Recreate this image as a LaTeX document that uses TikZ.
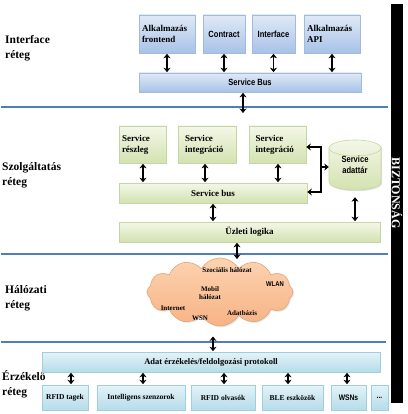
\documentclass[tikz,border=0pt]{standalone}
\usepackage{fontspec}
\setmainfont{Liberation Serif}
\newfontfamily\nsans[FakeStretch=0.84]{Liberation Sans}
\usetikzlibrary{arrows.meta,shapes.symbols,shadows,calc}
\definecolor{layerblue}{HTML}{4F7FB8}
\definecolor{bluetop}{HTML}{E0E9F6}
\definecolor{bluebot}{HTML}{A8C2E8}
\definecolor{blueedge}{HTML}{A3BBDA}
\definecolor{greentop}{HTML}{F3F7E8}
\definecolor{greenbot}{HTML}{D3E2B0}
\definecolor{greenedge}{HTML}{C6D7A3}
\definecolor{cyantop}{HTML}{E4F3F8}
\definecolor{cyanbot}{HTML}{B5DCE9}
\definecolor{cyanedge}{HTML}{9DCFDF}
\definecolor{cloudtop}{HTML}{FCD3B0}
\definecolor{cloudbot}{HTML}{F7B386}
\definecolor{cloudedge}{HTML}{E3A676}
\tikzset{
  boxbase/.style={rectangle, line width=0.6pt, inner sep=2pt,
    drop shadow={shadow xshift=1.2pt, shadow yshift=-1.2pt, opacity=0.25, fill=gray}},
  bluebox/.style={boxbase, draw=blueedge, top color=bluetop, bottom color=bluebot},
  greenbox/.style={boxbase, draw=greenedge, top color=greentop, bottom color=greenbot},
  cyanbox/.style={boxbase, draw=cyanedge, top color=cyantop, bottom color=cyanbot},
  sertxt/.style={font=\bfseries\fontsize{9}{11}\selectfont},
  santxt/.style={font=\nsans\bfseries\fontsize{9}{11}\selectfont},
  smalltxt/.style={font=\bfseries\fontsize{7.5}{9}\selectfont},
  cloudtxt/.style={font=\bfseries\fontsize{7}{8.5}\selectfont, inner sep=0pt, align=center},
  layerlabel/.style={font=\bfseries\fontsize{11.5}{15}\selectfont, align=left, anchor=west, inner sep=0pt},
  layerline/.style={draw=layerblue, line width=2.6pt},
  darr/.style={line width=1.8pt, {Stealth[length=4.5pt,width=7pt]}-{Stealth[length=4.5pt,width=7pt]}, shorten <=0.5pt, shorten >=0.5pt},
  sarr/.style={line width=1.8pt, -{Stealth[length=4.5pt,width=7pt]}},
}
\begin{document}
\begin{tikzpicture}[x=1pt,y=-1pt]
\useasboundingbox (0,0) rectangle (407,414);
\fill[white] (0,0) rectangle (407,414);

% security bar
\fill[black] (391,4) rectangle (403,403);
\node[rotate=-90, text=white, font=\bfseries\fontsize{12}{12}\selectfont, inner sep=0pt] (biz) at (397,193) {BIZTONSÁG};

% layer lines
\draw[layerline] (1,107) -- (388,107);
\draw[layerline] (1,254) -- (388,254);
\draw[layerline] (1,342) -- (386,342);

% layer labels
\node[layerlabel] (l1) at (5,48) {Interface\\réteg};
\node[layerlabel] (l2) at (2,175) {Szolgáltatás\\réteg};
\node[layerlabel] (l3) at (5,298.5) {Hálózati\\réteg};
\node[layerlabel] (l4) at (2,384.5) {Érzékelő\\réteg};

% interface layer
\node[bluebox, sertxt, minimum width=56pt, minimum height=38pt, text width=50pt, align=left] (fe) at (167,34) {Alkalmazás\\frontend};
\node[bluebox, santxt, minimum width=42pt, minimum height=38pt] (ct) at (224,34) {Contract};
\node[bluebox, santxt, minimum width=43pt, minimum height=38pt] (itf) at (273.5,34) {Interface};
\node[bluebox, sertxt, minimum width=56pt, minimum height=38pt, text width=50pt, align=left] (api) at (332,34) {Alkalmazás\\API};
\node[bluebox, santxt, minimum width=222pt, minimum height=19pt] (sb) at (250,82.5) {Service Bus};
\draw[darr] (fe.south) -- (fe.south |- sb.north);
\draw[darr] (ct.south) -- (ct.south |- sb.north);
\draw[darr] (itf.south) -- (itf.south |- sb.north);
\draw[darr] (api.south) -- (api.south |- sb.north);
\coordinate (sbdown) at (243,113);
\draw[darr, shorten >=0pt] (sb.south -| sbdown) -- (sbdown);

% service layer
\node[greenbox, sertxt, minimum width=47pt, minimum height=37pt, text width=41pt, align=left] (sr) at (142.5,144.5) {Service\\részleg};
\node[greenbox, sertxt, minimum width=58pt, minimum height=37pt, text width=44pt, align=left] (si1) at (207,144.5) {Service\\integráció};
\node[greenbox, sertxt, minimum width=57pt, minimum height=37pt, text width=44pt, align=left] (si2) at (277.5,144.5) {Service\\integráció};
\node[greenbox, sertxt, minimum width=188pt, minimum height=20pt] (bus2) at (213,193) {Service bus};
\node[greenbox, sertxt, minimum width=261pt, minimum height=20pt] (uz) at (249.5,232) {Üzleti logika};

% cylinder (service adattár)
\path[draw=greenedge, line width=0.6pt, top color=greentop, bottom color=greenbot,
  drop shadow={shadow xshift=1.2pt, shadow yshift=-1.2pt, opacity=0.25, fill=gray}]
  (329,148) -- (329,182) arc[start angle=180, end angle=360, x radius=26pt, y radius=8pt]
  -- (381,148) arc[start angle=0, end angle=180, x radius=26pt, y radius=8pt] -- cycle;
\draw[greenedge, line width=0.6pt] (329,148) arc[start angle=180, end angle=360, x radius=26pt, y radius=8pt];
\node[santxt, align=center, minimum width=52pt, minimum height=50pt, inner sep=0pt] (db) at (355,165) {Service\\adattár};

\draw[darr] ([xshift=0.5pt]sr.south) -- ([xshift=0.5pt]sr.south |- bus2.north);
\draw[darr] ([xshift=-2pt]si1.south) -- ([xshift=-2pt]si1.south |- bus2.north);
\draw[darr] ([xshift=0.5pt]si2.south) -- ([xshift=0.5pt]si2.south |- bus2.north);
\draw[darr] (bus2.south) -- (bus2.south |- uz.north);
\draw[darr, shorten <=7pt] (db.south) -- (db.south |- uz.north);
\coordinate (bt) at (321,147);
\coordinate (bb) at (321,192);
\coordinate (bm) at (321,167);
\draw[line width=1.8pt, line join=miter, {Stealth[length=4.5pt,width=7pt]}-{Stealth[length=4.5pt,width=7pt]}]
  (bt -| si2.east) -- (bt) -- (bb) -- (bb -| bus2.east);
\draw[sarr] (bm) -- (bm -| db.west);
\coordinate (uzdown) at (237,259);
\draw[darr, shorten >=0pt] (uz.south -| uzdown) -- (uzdown);

% network layer
\node[cloud, cloud puffs=12, cloud puff arc=120, aspect=2.15, minimum width=146pt, minimum height=68pt,
  inner sep=0pt, draw=cloudedge, line width=0.6pt, top color=cloudtop, bottom color=cloudbot,
  drop shadow={shadow xshift=1.2pt, shadow yshift=-1.2pt, opacity=0.2, fill=gray}] (net) at (220,292) {};
\node[cloudtxt] (c1) at (227,270) {Szociális hálózat};
\node[cloudtxt, font=\nsans\bfseries\fontsize{7}{8.5}\selectfont] (c2) at (275,284) {WLAN};
\node[cloudtxt] (c3) at (210,293) {Mobil\\hálózat};
\node[cloudtxt] (c4) at (173,308) {Internet};
\node[cloudtxt] (c5) at (242,313) {Adatbázis};
\node[cloudtxt] (c6) at (200,318) {WSN};

% sensing layer
\node[cyanbox, font=\bfseries\fontsize{8.5}{10}\selectfont, minimum width=338pt, minimum height=20pt] (adat) at (211,362) {Adat érzékelés/feldolgozási protokoll};
\coordinate (netdown) at (213,336);
\draw[darr] (netdown) -- (netdown |- adat.north);

\node[cyanbox, smalltxt, minimum width=46pt, minimum height=25pt] (b1) at (65,397.5) {RFID tagek};
\node[cyanbox, smalltxt, minimum width=88pt, minimum height=25pt] (b2) at (141,397.5) {Intelligens szenzorok};
\node[cyanbox, smalltxt, minimum width=64pt, minimum height=25pt] (b3) at (223,397.5) {RFID olvasók};
\node[cyanbox, smalltxt, minimum width=61pt, minimum height=25pt] (b4) at (292.5,397.5) {BLE eszközök};
\node[cyanbox, font=\nsans\bfseries\fontsize{8}{9}\selectfont, minimum width=35pt, minimum height=25pt] (b5) at (348.5,397.5) {WSNs};
\node[cyanbox, font=\nsans\bfseries\fontsize{8}{9}\selectfont, minimum width=17pt, minimum height=25pt, inner sep=0pt] (b6) at (379.5,397.5) {...};

\draw[darr] ([xshift=6pt]b1.north |- adat.south) -- ([xshift=6pt]b1.north);
\draw[darr] ([xshift=2pt]b2.north |- adat.south) -- ([xshift=2pt]b2.north);
\draw[darr] ([xshift=1pt]b3.north |- adat.south) -- ([xshift=1pt]b3.north);
\draw[darr] ([xshift=-4.5pt]b4.north |- adat.south) -- ([xshift=-4.5pt]b4.north);
\draw[darr] ([xshift=-1.5pt]b5.north |- adat.south) -- ([xshift=-1.5pt]b5.north);
\end{tikzpicture}
\end{document}
